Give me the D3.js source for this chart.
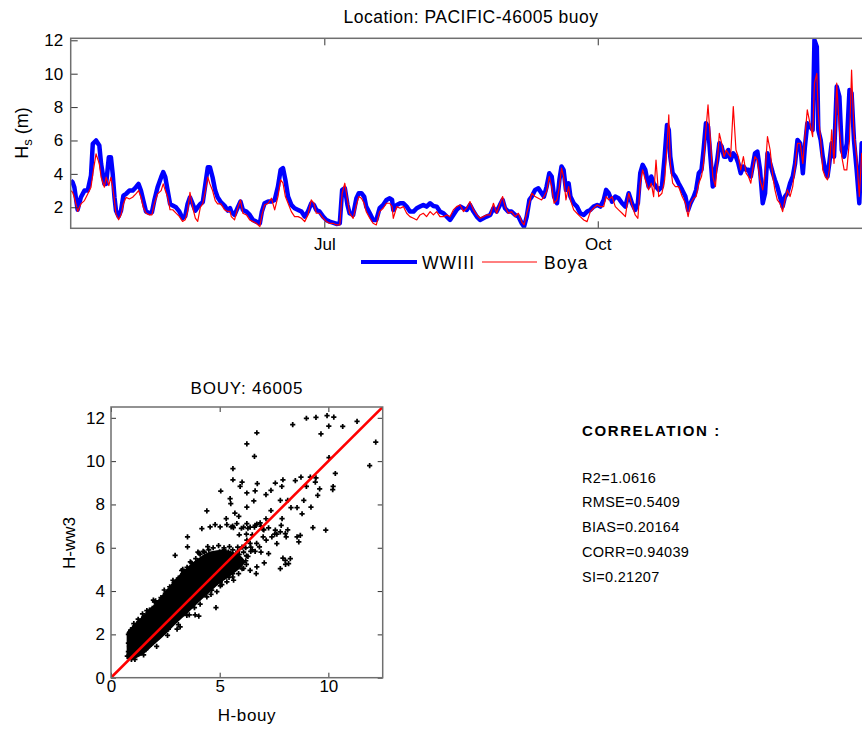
<!DOCTYPE html>
<html><head><meta charset="utf-8">
<script src="https://cdn.jsdelivr.net/npm/d3@7"></script>
<style>
body{margin:0;background:#fff}
svg{display:block}
text{font-family:"Liberation Sans",Arial,sans-serif;fill:#000}
</style>
</head><body>
<svg id="c" width="862" height="729"></svg>
<script>
// ---------- DATA ----------
// day of year (2011) of each sample, WWIII model Hs and buoy Hs (m)
const dayOfYear = [
96.7,97.3,97.9,99.0,100.1,101.3,102.4,103.5,104.1,105.2,106.3,106.9,108.0,108.6,109.5,110.2,110.8,111.4,111.9,112.8,
113.6,114.4,115.3,116.4,117.5,118.6,119.5,120.3,121.1,122.0,123.1,124.0,124.8,125.9,127.1,127.8,128.5,129.3,130.1,131.0,
132.1,133.2,134.3,135.2,136.0,136.8,137.7,138.6,139.4,140.3,141.1,142.0,142.8,143.5,144.4,145.3,146.1,147.2,148.4,149.5,150.3,
150.7,151.8,153.0,153.8,154.6,155.8,156.9,158.0,159.1,160.3,161.0,161.9,163.1,164.2,165.3,166.4,167.3,168.1,168.9,169.8,
170.9,172.0,173.2,174.3,175.4,176.5,177.6,178.5,179.3,180.4,181.6,182.7,183.8,184.9,186.1,187.2,188.0,188.9,189.8,190.5,
191.7,192.8,193.6,194.5,195.4,196.1,197.3,198.4,199.5,200.6,201.8,202.9,204.0,204.8,
205.2,206.4,207.5,208.6,209.7,210.8,212.0,213.1,214.2,215.3,216.4,217.6,218.7,219.8,220.9,222.1,223.2,224.3,225.4,226.5,
227.7,228.8,229.9,231.0,232.2,233.3,234.4,235.5,236.6,237.8,238.9,240.0,241.1,242.0,242.8,243.9,245.0,246.2,247.3,248.4,
249.2,250.1,251.0,251.8,252.9,254.0,255.1,255.9,256.8,257.7,258.5,259.3,
260.3,261.1,261.8,262.5,263.3,264.2,264.8,265.9,267.0,268.1,269.3,270.4,271.5,272.6,273.8,274.9,276.0,276.8,277.7,278.8,
279.9,281.0,282.2,283.3,284.4,285.5,286.6,287.5,288.3,289.1,290.0,291.1,292.0,292.8,293.6,294.5,295.6,296.5,297.3,297.9,
298.4,299.2,300.1,301.2,302.4,303.5,304.4,305.2,306.3,307.1,308.0,308.9,309.6,310.4,311.1,311.9,312.7,313.6,
314.2,314.9,315.7,316.5,317.2,317.9,318.7,319.6,320.5,321.3,322.1,323.0,323.9,324.7,325.5,326.1,326.9,327.7,328.6,329.5,
330.3,331.1,332.0,332.9,333.6,334.4,335.3,336.2,337.0,337.8,338.7,339.6,340.4,341.2,342.1,343.0,343.7,344.5,345.4,346.3,
346.9,347.7,348.2,349.0,349.7,350.5,351.3,351.9,352.7,353.5,354.4,355.3,356.1,356.9,357.8,358.7,359.4,360.2,361.1,362.0,
362.8,363.6];

const wwiii = [
3.6,3.5,3.2,1.85,2.6,3.0,3.0,3.9,5.8,6.0,5.7,4.6,3.4,3.4,5.0,5.0,4.0,2.6,1.8,1.45,
1.8,2.7,2.8,3.0,3.0,3.2,3.4,3.0,2.4,1.75,1.65,1.7,2.4,3.2,3.8,4.1,3.8,3.0,2.2,2.1,
2.0,1.75,1.35,1.45,2.2,2.6,2.2,1.8,2.0,2.2,2.3,3.4,4.4,4.4,3.8,3.0,2.6,2.3,2.1,1.8,1.95,
1.74,1.54,2.04,2.34,1.84,1.74,1.54,1.24,1.14,1.04,1.74,2.24,2.34,2.34,2.44,3.24,4.24,4.34,3.64,2.64,
2.14,1.94,1.84,1.74,1.44,1.74,2.24,2.14,1.84,1.74,1.44,1.24,1.14,1.08,1.0,1.04,3.04,3.14,2.14,1.64,
1.54,2.54,2.84,2.84,2.64,2.04,1.64,1.24,1.24,1.94,2.14,2.44,2.54,2.44,
1.84,2.14,2.24,2.24,2.04,1.74,1.74,1.94,2.04,2.14,2.04,2.24,2.08,2.04,1.74,1.64,1.44,1.24,1.54,1.84,
2.04,1.94,1.84,2.14,1.74,1.44,1.24,1.34,1.44,1.54,1.94,1.74,2.14,2.44,1.94,1.74,1.74,1.54,1.44,1.04,
0.84,1.44,2.44,2.64,3.04,3.14,2.84,2.64,3.24,4.04,3.84,2.64,
2.24,3.64,4.44,4.24,3.04,3.44,2.64,2.24,2.04,1.64,1.54,1.74,1.84,2.04,2.14,2.04,2.44,3.04,2.84,2.34,
2.64,2.54,2.24,2.04,2.84,2.24,1.84,2.24,4.04,4.54,4.24,3.24,3.84,3.44,3.24,3.04,3.24,5.03,6.93,6.63,
5.03,4.04,3.84,3.44,3.04,2.64,1.84,2.24,2.64,3.04,4.04,4.24,5.43,7.03,6.83,5.03,3.24,4.24,
4.83,5.83,5.63,5.03,5.03,5.43,4.83,5.23,5.03,4.63,4.04,4.44,4.24,4.24,3.84,4.44,5.23,5.33,4.24,2.24,
2.84,5.23,4.63,4.04,3.64,3.24,2.64,2.04,2.64,2.84,3.44,3.84,4.63,6.03,5.83,4.04,5.63,7.03,6.83,6.63,
12.02,11.62,6.63,6.03,5.03,4.24,3.84,4.63,5.83,5.03,9.23,8.63,5.43,5.03,5.83,9.03,8.83,6.03,4.24,2.24,
5.83,5.8];

const buoy = [
3.0,2.9,2.6,1.75,2.2,2.4,2.8,3.2,4.0,5.2,4.6,3.8,3.2,3.8,3.3,3.8,3.2,2.4,1.6,1.25,
1.55,2.2,2.6,2.5,2.6,2.8,3.0,2.6,2.0,1.65,1.55,1.55,2.2,2.8,3.0,3.4,3.0,2.6,1.85,1.85,
1.65,1.45,1.15,1.25,1.75,2.9,2.0,1.35,1.15,2.0,2.2,3.0,3.8,3.4,3.0,2.4,2.2,2.2,1.85,1.75,1.75,
1.44,1.24,2.04,2.44,1.64,1.54,1.24,1.14,1.04,0.84,1.54,2.14,2.24,2.54,1.84,2.64,3.64,3.44,2.64,2.24,
1.74,1.44,1.44,1.34,1.14,1.54,2.44,2.24,1.64,1.64,1.34,1.14,1.04,1.04,0.94,0.94,2.84,3.44,2.44,1.64,
1.34,2.14,2.64,2.54,2.24,1.74,1.34,1.04,0.94,1.74,1.94,2.24,2.24,2.04,
1.34,2.04,1.94,2.04,1.64,1.44,1.34,1.24,1.54,1.64,1.44,1.74,1.54,1.74,1.44,1.44,1.54,1.44,1.84,2.04,
2.14,1.74,1.94,2.34,1.84,1.54,1.34,1.44,1.54,1.54,2.24,1.64,2.24,2.64,2.04,1.64,1.74,1.44,1.64,1.14,
0.94,1.64,2.24,2.84,2.64,2.54,2.44,2.64,2.94,3.84,3.24,2.24,
2.44,3.24,4.34,3.84,2.44,3.24,2.44,1.84,1.64,1.44,1.24,1.14,1.74,1.94,2.14,2.04,2.04,2.64,2.44,2.64,
2.04,1.84,1.64,1.44,2.84,2.14,1.54,1.34,3.44,4.24,3.64,3.04,3.44,2.64,4.83,2.64,2.84,3.64,5.63,7.53,
4.63,3.44,3.24,3.24,2.64,2.24,1.44,2.24,2.54,2.64,3.44,3.84,4.63,6.63,8.13,6.03,3.84,3.24,
4.63,6.43,5.83,5.03,5.43,5.23,5.03,8.03,5.43,5.03,4.24,5.03,4.04,3.84,3.44,4.24,5.03,4.83,3.64,3.04,
4.04,6.23,5.43,3.84,3.04,2.44,2.24,1.74,2.44,3.04,2.64,3.24,4.44,5.83,5.83,4.63,6.23,7.83,7.03,6.23,
9.43,10.02,7.63,6.03,4.24,3.84,3.64,4.24,6.63,4.63,9.43,6.63,5.03,4.24,4.24,6.03,10.22,6.43,5.03,2.64,
5.23,5.0];

// extent of the saturated (solid black) part of the scatter cloud
const cloudBuoy  = [0.72, 1.0, 1.5, 2.0, 2.5, 3.0, 3.5, 4.0, 4.5, 5.0, 5.5, 6.0, 6.2];
const cloudLower = [0.85, 0.85, 1.1, 1.55, 2.0, 2.5, 2.95, 3.45, 3.9, 4.35, 4.7, 5.1, 5.35];
const cloudUpper = [2.1, 2.4, 2.9, 3.4, 4.0, 4.6, 5.1, 5.5, 5.8, 5.9, 5.85, 5.6, 5.35];

// extra scatter points read from the cloud edge and the outliers [H-bouy, H-ww3]
const cloudPoints = [
[0.8,1.2],[0.8,1.6],[0.8,2.0],[0.9,2.2],[0.9,1.0],[1.0,1.4],[1.0,1.8],[1.0,2.3],[1.1,1.1],[1.1,2.0],
[1.2,1.5],[1.2,2.5],[1.3,1.2],[1.3,1.9],[1.3,2.6],[1.4,2.2],[1.4,1.4],[1.5,1.7],[1.5,2.8],[1.6,2.4],
[1.6,1.3],[1.7,2.0],[1.7,3.0],[1.8,1.6],[1.8,2.6],[1.9,3.2],[1.9,2.2],[2.0,1.7],[2.0,2.9],[2.0,3.5],
[2.1,2.4],[2.2,3.2],[2.2,1.9],[2.3,2.7],[2.3,3.7],[2.4,2.2],[2.4,3.3],[2.5,2.9],[2.5,3.9],[2.6,2.4],
[2.6,3.5],[2.7,3.1],[2.7,4.2],[2.8,2.6],[2.8,3.8],[2.9,3.3],[2.9,4.4],[3.0,2.8],[3.0,3.9],[3.1,4.6],
[3.1,3.4],[3.2,3.0],[3.2,4.2],[3.3,4.8],[3.3,3.6],[3.4,3.1],[3.4,4.4],[3.5,5.1],[3.5,3.9],[3.6,3.3],
[3.6,4.7],[3.7,4.1],[3.7,5.3],[3.8,3.5],[3.8,4.9],[3.9,4.4],[3.9,5.5],[4.0,3.6],[4.0,5.0],[4.1,4.4],
[4.1,5.7],[4.2,3.9],[4.2,5.2],[4.3,4.7],[4.3,5.8],[4.4,4.1],[4.4,5.4],[4.5,5.0],[4.5,5.9],[4.6,4.3],
[4.6,5.5],[4.7,4.9],[4.7,6.0],[4.8,4.4],[4.8,5.6],[4.9,5.2],[5.0,4.6],[5.0,5.8],[5.1,5.3],[5.2,4.7],
[5.2,5.9],[5.3,5.4],[5.4,4.9],[5.4,5.8],[5.5,5.3],[5.6,4.8],[5.6,5.9],[5.7,5.5],[5.8,5.1],[5.9,5.7],
[6.0,5.3],[6.1,5.8],[6.2,5.4],[6.3,5.6],[6.5,5.9],[6.7,6.2],[6.9,5.8],[6.4,6.2],[6.2,6.0],[7.0,6.5],
[0.75,1.0],[0.85,1.45],[1.05,2.5],[1.25,2.7],[1.45,2.95],[1.65,3.1],[2.05,3.55],[2.45,4.05],[2.85,4.5],[3.25,4.95],
[3.65,5.35],[4.05,5.75],[4.45,6.05],[4.95,6.1],[5.45,6.05],[1.1,0.85],[1.5,1.05],[2.1,1.45],[2.6,1.95],[3.1,2.45],
[3.6,2.9],[4.1,3.4],[4.6,3.85],[5.1,4.3],[5.6,4.65],[6.1,5.05]];

const outlierPoints = [
[6.25,10.8],[6.71,11.31],[6.6,10.22],[8.36,11.69],[8.99,11.98],[9.94,12.1],[10.25,12.03],[10.66,11.6],[11.32,11.84],[9.66,11.26],
[12.18,10.88],[11.9,9.79],[10.03,10.16],[10.32,9.43],[10.2,8.68],[9.88,6.81],[9.29,6.93],[5.61,9.65],[5.61,9.14],[5.05,8.62],
[4.41,7.7],[5.94,8.83],[6.25,8.53],[6.73,8.96],[6.25,7.88],[6.57,8.16],[7.13,8.45],[7.36,8.65],[5.48,8.27],[5.51,8.04],
[5.7,7.6],[5.88,7.45],[7.56,8.99],[7.91,9.14],[7.86,8.83],[8.13,8.19],[8.28,7.85],[8.48,9.1],[8.74,9.26],[8.99,8.83],
[9.17,9.26],[9.4,9.03],[9.6,8.72],[9.51,8.42],[8.87,8.19],[8.79,7.57],[9.2,7.88],[8.56,7.85],[7.87,7.35],[7.79,8.19],
[7.36,7.72],[7.13,7.34],[7.25,6.92],[7.56,6.81],[7.79,6.73],[8.02,6.65],[8.06,6.5],[7.4,6.5],[7.63,6.19],[7.14,6.35],
[6.83,6.04],[7.25,5.73],[7.05,5.3],[7.91,5.52],[8.02,5.42],[8.17,5.27],[8.25,5.5],[7.79,5.04],[8.56,6.5],[8.64,6.27],
[8.71,6.57],[6.25,6.35],[5.79,7.12],[5.3,7.35],[5.53,6.96],[6.25,7.12],[6.71,7.09],[6.86,7.15],[2.95,5.65],[3.52,6.5],
[3.52,6.04],[4.18,6.88],[4.56,6.96],[4.79,7.07],[5.02,6.96],[5.33,7.07],[1.95,3.58],[1.77,3.12],[1.18,2.32],[0.87,1.74],
[3.18,2.35],[3.49,2.88],[3.87,2.9],[4.41,3.73],[4.87,3.97],[5.33,4.43],[5.64,4.5],[5.87,4.81],[6.4,4.96],[6.71,5.12],
[6.68,4.81],[6.0,6.9],[6.4,6.95],[6.5,6.6],[5.9,6.6],[5.6,7.0],[6.1,6.95],[6.3,6.9],[6.6,6.95],[6.9,7.0],[7.0,6.85]];

const topYTicks = [2, 4, 6, 8, 10, 12];
const topXTicks = ["2011-07-01", "2011-10-01"];
const scatterXTicks = [0, 5, 10];
const scatterYTicks = [0, 2, 4, 6, 8, 10, 12];
const seriesNames = ["WWIII", "Boya"];
const statLines = ["R2=1.0616", "RMSE=0.5409", "BIAS=0.20164", "CORR=0.94039", "SI=0.21207"];

// ---------- DRAW ----------
const svg = d3.select("#c");
const BOX = "#6f6f6f", TICK = "#333";
const toDate = d => new Date(Date.UTC(2011, 0, 1) + (d - 1) * 864e5);

// ===== time series panel =====
const T = {l: 70.7, r: 871.2, t: 38.3, b: 228.3};
const x = d3.scaleUtc().domain([toDate(96.67), toDate(366)]).range([T.l, T.r]);
const y = d3.scaleLinear().domain([0.74, 12.12]).range([T.b, T.t]);

const defs = svg.append("defs");
defs.append("clipPath").attr("id", "clipT")
  .append("rect").attr("x", T.l).attr("y", T.t).attr("width", T.r - T.l).attr("height", T.b - T.t);

const idx = d3.range(dayOfYear.length);
const lineW = d3.line().x(i => x(toDate(dayOfYear[i]))).y(i => y(wwiii[i]));
const lineB = d3.line().x(i => x(toDate(dayOfYear[i]))).y(i => y(buoy[i]));
const gT = svg.append("g").attr("clip-path", "url(#clipT)");
gT.append("path").datum(idx).attr("d", lineW).attr("fill", "none")
  .attr("stroke", "#0000ff").attr("stroke-width", 4.5).attr("stroke-linejoin", "round");
gT.append("path").datum(idx).attr("d", lineB).attr("fill", "none")
  .attr("stroke", "#ff0000").attr("stroke-width", 1.2).attr("stroke-linejoin", "round");

function styleAxis(g, showText) {
  g.select(".domain").remove();
  g.selectAll(".tick line").attr("stroke", TICK);
  g.selectAll(".tick text").attr("font-size", 17).attr("fill", "#000")
    .style("font-family", '"Liberation Sans",Arial,sans-serif');
  if (!showText) g.selectAll(".tick text").remove();
}
const xTickDates = topXTicks.map(s => new Date(s + "T00:00:00Z"));
svg.append("g").attr("transform", `translate(0,${T.b})`)
  .call(d3.axisBottom(x).tickValues(xTickDates).tickFormat(d3.utcFormat("%b")).tickSize(-7).tickPadding(9.5))
  .call(g => styleAxis(g, true));
svg.append("g").attr("transform", `translate(0,${T.t})`)
  .call(d3.axisTop(x).tickValues(xTickDates).tickSize(-7))
  .call(g => styleAxis(g, false));
svg.append("g").attr("transform", `translate(${T.l},0)`)
  .call(d3.axisLeft(y).tickValues(topYTicks).tickSize(-7).tickPadding(7.5))
  .call(g => styleAxis(g, true));
svg.append("rect").attr("x", T.l).attr("y", T.t).attr("width", T.r - T.l).attr("height", T.b - T.t)
  .attr("fill", "none").attr("stroke", BOX).attr("stroke-width", 1.5);

svg.append("text").attr("x", 471).attr("y", 23).attr("text-anchor", "middle")
  .attr("font-size", 17.5).attr("letter-spacing", 0.5).text("Location: PACIFIC-46005 buoy");

const yl = svg.append("text").attr("transform", "translate(28,133) rotate(-90)")
  .attr("text-anchor", "middle").attr("font-size", 18);
yl.append("tspan").text("H");
yl.append("tspan").attr("dy", 4).attr("font-size", 13).text("s");
yl.append("tspan").attr("dy", -4).text(" (m)");

// legend
const legend = svg.append("g");
legend.append("line").attr("x1", 361).attr("x2", 417).attr("y1", 262).attr("y2", 262)
  .attr("stroke", "#0000ff").attr("stroke-width", 4);
legend.append("text").attr("x", 422).attr("y", 269).attr("font-size", 17.5).attr("letter-spacing", 1.1).text(seriesNames[0]);
legend.append("line").attr("x1", 482).attr("x2", 537).attr("y1", 262).attr("y2", 262)
  .attr("stroke", "#ff0000").attr("stroke-width", 1);
legend.append("text").attr("x", 544).attr("y", 269).attr("font-size", 17.5).attr("letter-spacing", 1.1).text(seriesNames[1]);

// ===== scatter panel =====
const S = {l: 111, r: 382.7, t: 407, b: 677.7};
const sx = d3.scaleLinear().domain([0, 12.5]).range([S.l, S.r]);
const sy = d3.scaleLinear().domain([0, 12.5]).range([S.b, S.t]);
defs.append("clipPath").attr("id", "clipS")
  .append("rect").attr("x", S.l).attr("y", S.t).attr("width", S.r - S.l).attr("height", S.b - S.t);

const gS = svg.append("g").attr("clip-path", "url(#clipS)");
// saturated core of overlapping markers
const cloudIdx = d3.range(cloudBuoy.length);
gS.append("path").datum(cloudIdx)
  .attr("d", d3.area().x(i => sx(cloudBuoy[i])).y0(i => sy(cloudLower[i])).y1(i => sy(cloudUpper[i])).curve(d3.curveCatmullRom))
  .attr("fill", "#000");
const pairs = idx.map(i => [buoy[i], wwiii[i]]).concat(cloudPoints, outlierPoints);
const cross = d3.symbol().type(d3.symbolCross).size(15)();
gS.selectAll("path.pt").data(pairs).join("path").attr("class", "pt")
  .attr("d", cross).attr("transform", d => `translate(${sx(d[0])},${sy(d[1])})`).attr("fill", "#000");
gS.append("line").attr("x1", sx(0)).attr("y1", sy(0)).attr("x2", sx(12.5)).attr("y2", sy(12.5))
  .attr("stroke", "#ff0000").attr("stroke-width", 2.6);

svg.append("g").attr("transform", `translate(0,${S.b})`)
  .call(d3.axisBottom(sx).tickValues(scatterXTicks).tickSize(-5).tickPadding(2.5))
  .call(g => styleAxis(g, true));
svg.append("g").attr("transform", `translate(0,${S.t})`)
  .call(d3.axisTop(sx).tickValues(scatterXTicks).tickSize(-5))
  .call(g => styleAxis(g, false));
svg.append("g").attr("transform", `translate(${S.l},0)`)
  .call(d3.axisLeft(sy).tickValues(scatterYTicks).tickSize(-5).tickPadding(6))
  .call(g => styleAxis(g, true));
svg.append("g").attr("transform", `translate(${S.r},0)`)
  .call(d3.axisRight(sy).tickValues(scatterYTicks).tickSize(-5))
  .call(g => styleAxis(g, false));
svg.append("rect").attr("x", S.l).attr("y", S.t).attr("width", S.r - S.l).attr("height", S.b - S.t)
  .attr("fill", "none").attr("stroke", BOX).attr("stroke-width", 1.5);

svg.append("text").attr("x", 246.9).attr("y", 393.5).attr("text-anchor", "middle")
  .attr("font-size", 17).attr("letter-spacing", 0.8).text("BOUY: 46005");
svg.append("text").attr("x", 246.9).attr("y", 721).attr("text-anchor", "middle")
  .attr("font-size", 17).attr("letter-spacing", 0.6).text("H-bouy");
svg.append("text").attr("transform", "translate(75,543) rotate(-90)").attr("text-anchor", "middle")
  .attr("font-size", 17).text("H-ww3");

// ===== statistics =====
svg.append("text").attr("x", 582).attr("y", 436).attr("font-size", 15).attr("font-weight", "bold")
  .attr("letter-spacing", 1.6).text("CORRELATION :");
svg.append("g").selectAll("text").data(statLines).join("text")
  .attr("x", 582).attr("y", (d, i) => 482.7 + i * 24.7).attr("font-size", 14.5).attr("letter-spacing", 0.3)
  .text(d => d);
</script>
</body></html>
